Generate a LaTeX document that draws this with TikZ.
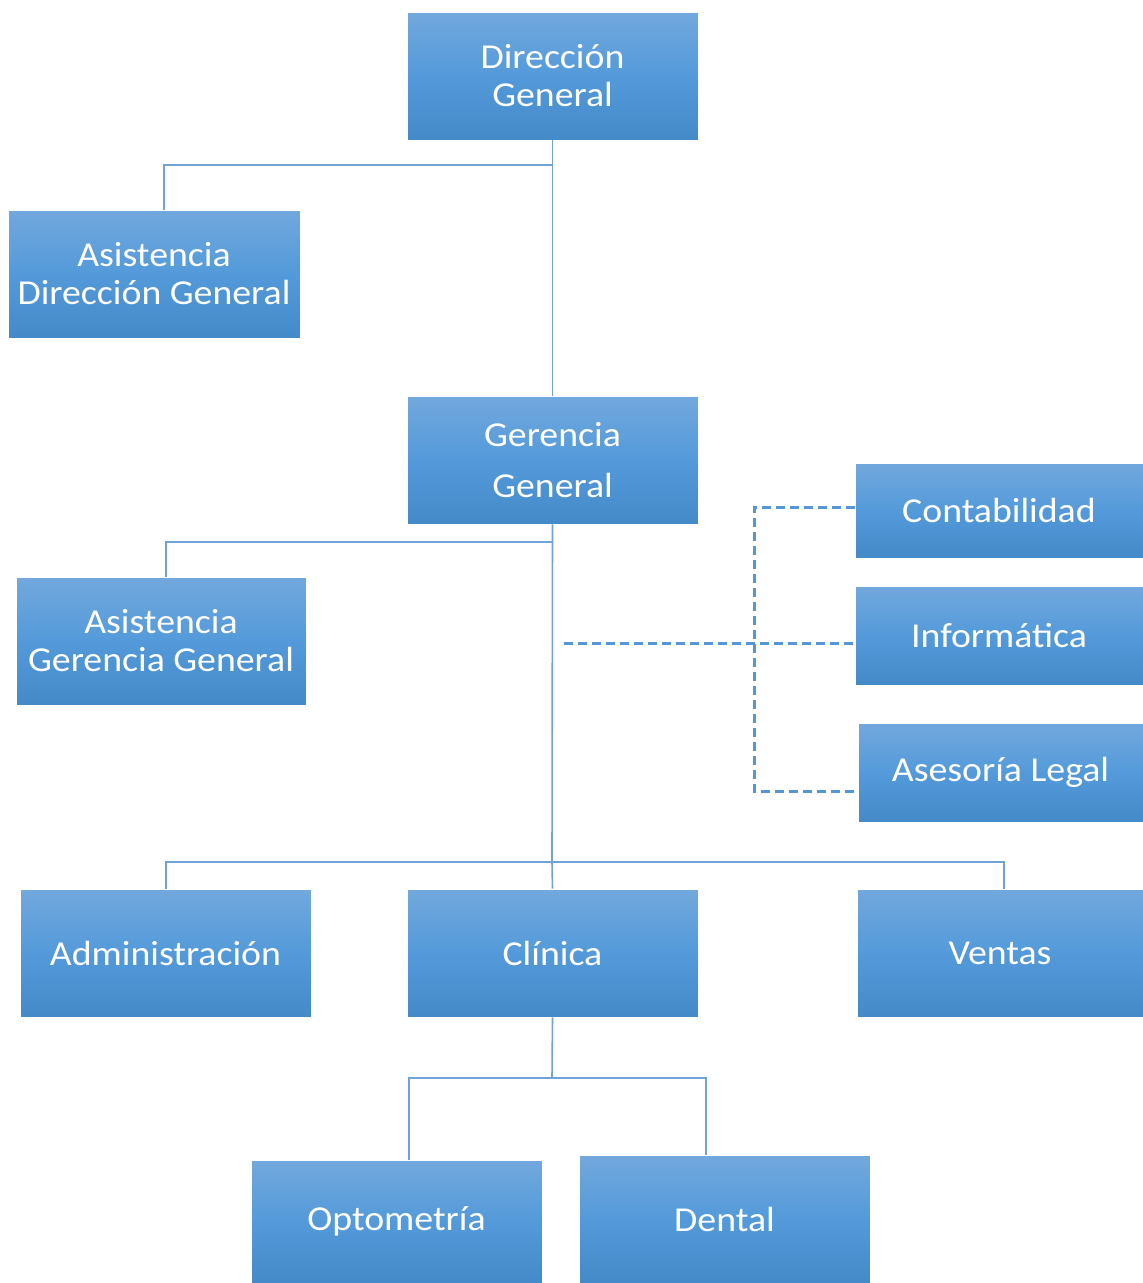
\documentclass[tikz,border=0pt]{standalone}
\usepackage{fontspec}
\setmainfont{Carlito}[FakeStretch=1.08]
\definecolor{boxtop}{RGB}{114,168,221}
\definecolor{boxmid}{RGB}{84,154,218}
\definecolor{boxbot}{RGB}{68,137,200}
\definecolor{linec}{RGB}{111,163,216}
\definecolor{dashc}{RGB}{84,150,214}
\tikzset{
  box/.style={rectangle, draw=white, line width=0.6pt, top color=boxtop, bottom color=boxbot, middle color=boxmid,
    text=white, align=center, font=\fontsize{35}{38}\selectfont, inner sep=0pt},
  conn/.style={draw=linec, line width=1.6pt},
  dconn/.style={draw=dashc, line width=3pt, dash pattern=on 9pt off 5pt},
}
\begin{document}
\begin{tikzpicture}[x=1pt,y=-1pt]
\useasboundingbox (0,0) rectangle (1143,1283);
% boxes
\node[box, minimum width=291, minimum height=128] (dg) at (552.5,76) {Dirección\\General};
\node[box, minimum width=292, minimum height=128] (adg) at (154,274) {Asistencia\\Dirección General};
\node[box, minimum width=291, minimum height=128, font=\fontsize{35}{51}\selectfont] (gg) at (552.5,460) {Gerencia\\General};
\node[box, minimum width=290, minimum height=128] (agg) at (161,641) {Asistencia\\Gerencia General};
\node[box, minimum width=288, minimum height=95] (cont) at (999,510.5) {Contabilidad};
\node[box, minimum width=288, minimum height=99] (inf) at (999,635.5) {Informática};
\node[box, minimum width=285, minimum height=99] (leg) at (1000.5,772.5) {Asesoría Legal};
\node[box, minimum width=291, minimum height=128] (adm) at (165.5,953) {Administración};
\node[box, minimum width=291, minimum height=128] (cli) at (552.5,953) {Clínica};
\node[box, minimum width=286, minimum height=128] (ven) at (1000,953) {Ventas};
\node[box, minimum width=291, minimum height=123] (opt) at (396.5,1221.5) {Optometría};
\node[box, minimum width=291, minimum height=128] (den) at (724.5,1219) {Dental};
% coordinates
\coordinate (b1) at (552,165);
\coordinate (b2) at (552,542);
\coordinate (b3) at (552,862);
\coordinate (b4) at (552,1078);
\coordinate (ds) at (564,643);
\coordinate (dtop) at (754,507);
\coordinate (dbot) at (754,791);
% solid connectors
\draw[conn] (dg.south) -- (gg.north);
\draw[conn] (b1) -| (adg.north -| 164,0);
\draw[conn] (gg.south) -- (b3);
\draw[conn] (b2) -| (agg.north -| 166,0);
\draw[conn] (b3) -| (adm.north -| 166,0);
\draw[conn] (b3) -- (cli.north);
\draw[conn] (b3) -| (ven.north -| 1004,0);
\draw[conn] (cli.south) -- (b4);
\draw[conn] (b4) -| (opt.north -| 409,0);
\draw[conn] (b4) -| (den.north -| 706,0);
% dashed connectors
\draw[dconn] (ds) -- (ds -| inf.west);
\draw[dconn] (dtop -| cont.west) -- (dtop) -- (dbot) -- (dbot -| leg.west);
\end{tikzpicture}
\end{document}
